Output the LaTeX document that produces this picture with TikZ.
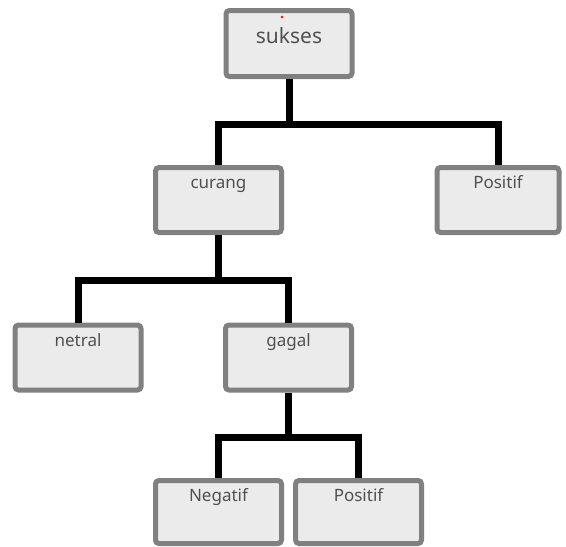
\documentclass[tikz,border=0pt]{standalone}
\usepackage{fontspec}
\setmainfont{Noto Sans}
\definecolor{boxfill}{RGB}{235,235,235}
\definecolor{boxedge}{RGB}{128,128,128}
\definecolor{labeltext}{RGB}{80,80,80}
\tikzset{
  box/.style={draw=boxedge, fill=boxfill, line width=5pt, rounded corners=3.5pt,
    minimum width=126pt, inner sep=0pt, text=labeltext,
    font=\fontsize{17}{20}\selectfont, text height=21pt, text depth=44pt},
  rootbox/.style={box, font=\fontsize{21}{24}\selectfont, text height=33pt, text depth=33pt},
  conn/.style={draw=black, line width=7pt, line join=miter}
}
\begin{document}
\begin{tikzpicture}[x=1pt, y=-1pt]
  \useasboundingbox (0,0) rectangle (566,547);

  % boxes of the tree
  \node[rootbox] (sukses) at (289,43.5) {sukses};
  \node[box] (curang) at (218.5,200) {curang};
  \node[box, minimum width=122pt] (posA) at (498,200) {Positif};
  \node[box] (netral) at (78,357.5) {netral};
  \node[box] (gagal) at (288.5,357.5) {gagal};
  \node[box, text depth=42pt] (negatif) at (218.5,512) {Negatif};
  \node[box, text depth=42pt] (posB) at (358.5,512) {Positif};

  % branching points
  \coordinate (j1) at (289,124);
  \coordinate (j2) at (218.5,280.5);
  \coordinate (j3) at (288.5,437);

  % connectors
  \draw[conn] (sukses.south) -- (j1);
  \draw[conn] (curang.north) |- (j1) -| (posA.north);
  \draw[conn] (curang.south) -- (j2);
  \draw[conn] (netral.north) |- (j2) -| (gagal.north);
  \draw[conn] (gagal.south) -- (j3);
  \draw[conn] (negatif.north) |- (j3) -| (posB.north);

  % small red mark inside the root box
  \fill[red] (282,17) circle (1.4pt);
\end{tikzpicture}
\end{document}
